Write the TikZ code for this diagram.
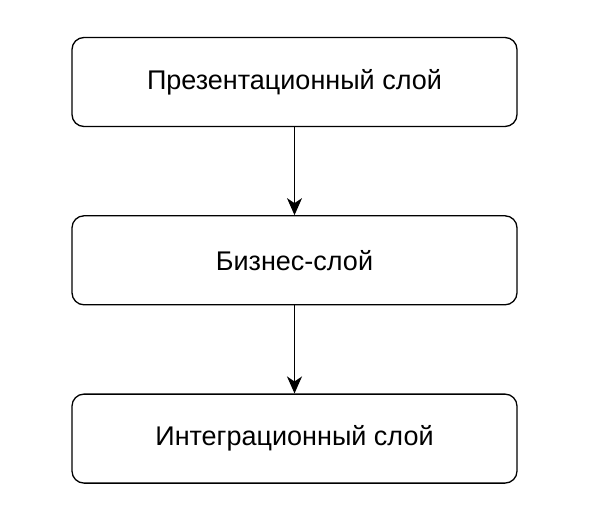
\documentclass[tikz,border=0pt]{standalone}
\usepackage{fontspec}
\setmainfont{Liberation Sans}
\usetikzlibrary{arrows.meta, positioning}

\begin{document}
\begin{tikzpicture}[x=1pt, y=1pt,
    layer/.style={draw, line width=1.3pt, rounded corners=12pt, minimum width=445pt,
      minimum height=89pt, font=\fontsize{27}{32}\selectfont, inner sep=0pt},
    flow/.style={-{Stealth[length=17pt, width=15pt, inset=5pt]}, line width=1.3pt}]
      \useasboundingbox (0,0) rectangle (592,-524);

      % Layers
      \node[layer] (present) at (294.5,-82) {Презентационный слой};
      \node[layer, below=88pt of present] (business) {Бизнес-слой};
      \node[layer, below=88pt of business] (integr) {Интеграционный слой};

      % Arrows
      \draw[flow] (present) -- (business);
      \draw[flow] (business) -- (integr);
    \end{tikzpicture}
\end{document}
